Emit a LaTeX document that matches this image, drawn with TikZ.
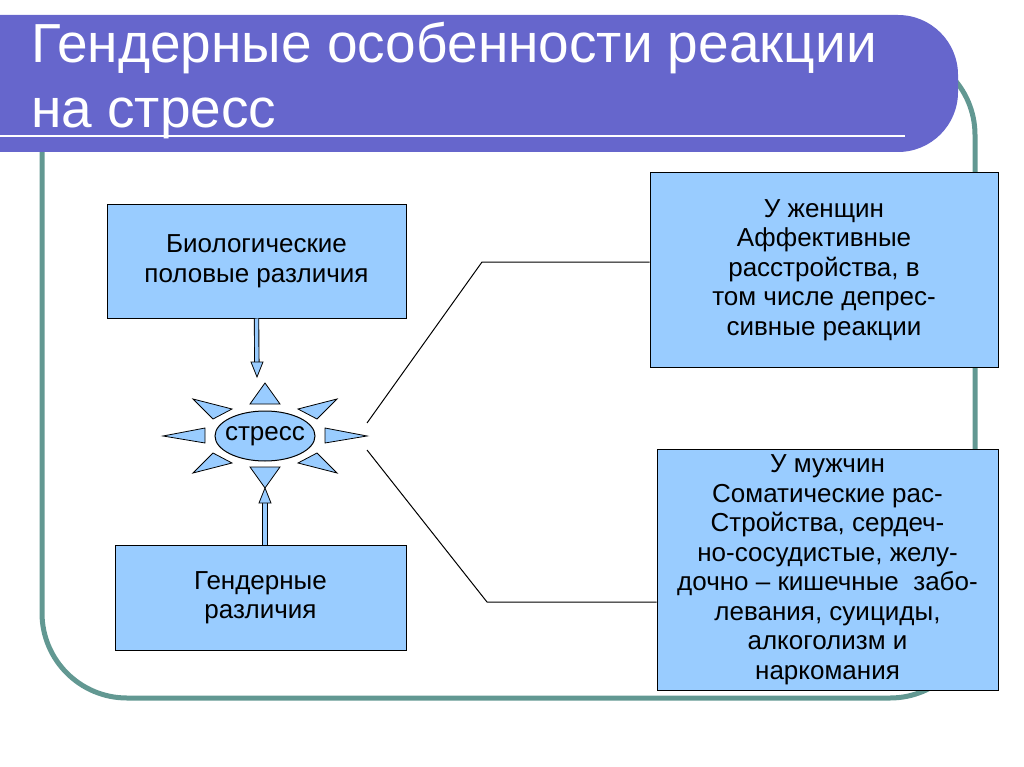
\documentclass[tikz,border=0pt]{standalone}
\usepackage{fontspec}
\setmainfont{Liberation Sans}
\usetikzlibrary{shapes.geometric}
\definecolor{boxblue}{HTML}{99CCFF}
\definecolor{bannerblue}{HTML}{6666CC}
\definecolor{framegreen}{RGB}{98,152,146}
\begin{document}
\begin{tikzpicture}[x=1pt, y=-1pt, text centered]
    \tikzset{%
      segm/.style={fill=boxblue, draw, line width=1pt, align=center, inner sep=0pt, font=\fontsize{26}{29.5}\selectfont},
      ray/.style={fill=boxblue, draw, line width=0.8pt, line join=miter},
      dblshaft/.style={double=boxblue, double distance=3.5pt, line width=0.9pt, shorten >=13pt},
      heading/.style={text=white, font=\fontsize{55}{65}\selectfont, anchor=base west, inner sep=0pt}
      }
    \clip (0,0) rectangle (1024,767);

    \draw [framegreen, line width=5pt, rounded corners=85pt] (42,50) rectangle (975,698);
    \fill [bannerblue, rounded corners=60pt] (-100,15) rectangle (958,152);
    \draw [white, line width=2.5pt] (0,136) -- (905,136);
    \node [heading] (Ytitle) at (31,63) {Гендерные особенности реакции};
    \node [heading] (Ytitle2) at ([yshift=-65pt]Ytitle.base west) {на стресс};

    \node [segm, minimum width=299pt, minimum height=113pt] (Ybio) at (256.5,261.5) {Биологические\\половые различия};
    \node [segm, minimum width=291pt, minimum height=105pt] (Ygend) at (260.5,597.5) {Гендерные\\различия};
    \node [segm, minimum width=348pt, minimum height=194pt] (Yfem) at (824,270) {У женщин\\Аффективные\\расстройства, в\\том числе депрес-\\сивные реакции};
    \node [segm, minimum width=341pt, minimum height=241pt] (Ymal) at (827.5,569.5) {У мужчин\\Соматические рас-\\Стройства, сердеч-\\но-сосудистые, желу-\\дочно – кишечные\ \ забо-\\левания, суициды,\\алкоголизм и\\наркомания};

    \node [segm, ellipse, inner xsep=-14pt, minimum width=100pt, minimum height=50pt] (Ystress) at (265,436) {стресс};
    \begin{scope}[shift={(Ystress.center)}]
      \draw [ray] (-15,-32) -- (15,-32) -- (0,-53) -- cycle;
      \draw [ray] (-15,31) -- (15,31) -- (0,52) -- cycle;
      \draw [ray] (-60,-8) -- (-60,7) -- (-102,0) -- cycle;
      \draw [ray] (60,-8) -- (60,7) -- (102,0) -- cycle;
      \foreach \sx in {-1,1}
        \foreach \sy in {-1,1}
          \draw [ray] (\sx*72,\sy*37) -- (\sx*33,\sy*27) -- (\sx*52,\sy*17) -- cycle;
    \end{scope}

    \coordinate (YtipN) at (257,377);
    \coordinate (YtipS) at (265,488);
    \draw [dblshaft] (Ybio.south) -- (YtipN);
    \draw [ray] (YtipN) -- ++(-6,-15) -- ++(12,0) -- cycle;
    \draw [dblshaft] (YtipS |- Ygend.north) -- (YtipS);
    \draw [ray] (YtipS) -- ++(-6,15) -- ++(12,0) -- cycle;

    \coordinate (YoutF) at (367,423);
    \coordinate (YbendF) at (482,262);
    \draw [line width=1pt] (YoutF) -- (YbendF) -- (YbendF -| Yfem.west);
    \coordinate (YoutM) at (367,450);
    \coordinate (YbendM) at (487,602);
    \draw [line width=1pt] (YoutM) -- (YbendM) -- (YbendM -| Ymal.west);
  \end{tikzpicture}
\end{document}
